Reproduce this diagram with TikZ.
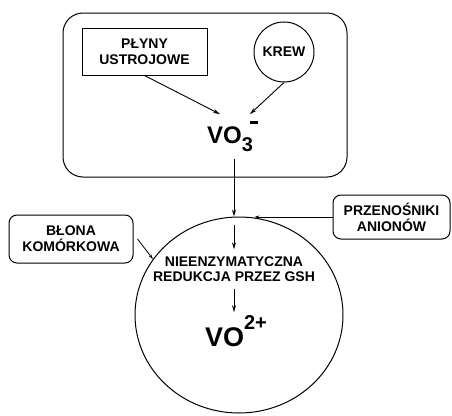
\documentclass[tikz,border=0pt]{standalone}
\usepackage{fontspec}
\setmainfont{Liberation Sans}
\usetikzlibrary{arrows.meta,shapes.geometric}

\begin{document}
\begin{tikzpicture}[x=1pt, y=-1pt,
    every node/.style={font=\fontsize{14}{16}\selectfont\bfseries, align=center},
    box/.style={draw, line width=1pt, inner sep=0pt},
    arr/.style={-{Stealth[length=7pt,width=4pt]}, line width=0.9pt},
    sidearr/.style={-{Stealth[length=5pt,width=3pt]}, line width=0.8pt}]
        \useasboundingbox (0,0) rectangle (452,415);

        % tkanka z plynami i krwia
        \node[box, rounded corners=20pt, minimum width=284pt, minimum height=164pt] (tkanka) at (205,95) {};
        \node[box, minimum width=125pt, minimum height=47pt] (plyny) at (144.5,51.5) {PŁYNY\\USTROJOWE};
        \node[box, circle, minimum size=60pt] (krew) at (284,52) {KREW};
        \node[inner sep=7pt] (vo3) at (230,136.75) {\fontsize{24}{24}\selectfont VO\makebox[0pt][l]{\hspace{8pt}\raisebox{20pt}{\rule{8pt}{2.6pt}}}\raisebox{-8pt}{\fontsize{20}{20}\selectfont 3}};

        % komorka
        \node[box, ellipse, minimum width=208pt, minimum height=196pt] (komorka) at (239,315) {};
        \node[inner sep=7pt, font=\fontsize{14}{15}\selectfont\bfseries] (redukcja) at (234,269) {NIEENZYMATYCZNA\\REDUKCJA PRZEZ GSH};
        \node[inner sep=3pt] (vo2) at (236,331) {\fontsize{27}{27}\selectfont VO\raisebox{17pt}{\fontsize{20}{20}\selectfont 2+}};

        \node[box, rounded corners=8pt, minimum width=124pt, minimum height=48pt] (blona) at (71,239) {BŁONA\\KOMÓRKOWA};
        \node[box, rounded corners=8pt, minimum width=117pt, minimum height=44pt] (przenosniki) at (391.5,217) {PRZENOŚNIKI\\ANIONÓW};

        \draw[arr] (plyny.south) -- ([xshift=-10pt]vo3.north);
        \draw[arr] (krew.south) -- ([xshift=20pt]vo3.north);
        \draw[arr] (vo3.south -| redukcja) -- (komorka.north -| redukcja);
        \draw[arr] ([yshift=-8pt]komorka.north -| redukcja) -- (redukcja.north);
        \draw[arr] (redukcja.south) -- (redukcja.south |- vo2.north);

        \draw[sidearr] (przenosniki.west) -- (przenosniki.west -| komorka.81);
        \draw[sidearr] ([xshift=4pt]blona.east) -- (komorka.147);
\end{tikzpicture}
\end{document}
